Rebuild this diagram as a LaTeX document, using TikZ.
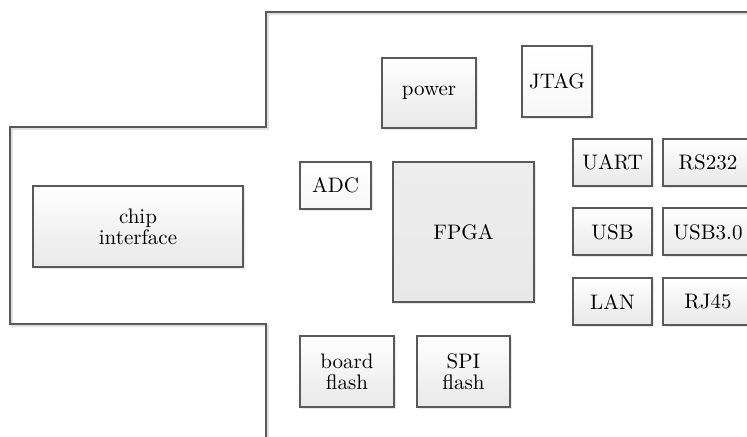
\documentclass[tikz,border=0pt]{standalone}
\usetikzlibrary{math,shadows}

\begin{document}
\begin{tikzpicture}[x=0.5pt, y=-0.5pt,
    blk/.style={draw=black!65, line width=1pt, top color=white, bottom color=black!9,
      drop shadow={shadow xshift=1pt, shadow yshift=-1pt, opacity=1, fill=black!9},
      align=center, inner sep=0pt, font=\fontsize{10.5}{10.5}\selectfont},
    lightblk/.style={blk, top color=white, bottom color=black!3},
    sz/.style 2 args={minimum width=#1*0.5pt, minimum height=#2*0.5pt}]
  \tikzmath{\w = 747; \h = 437;}
  \useasboundingbox (0, 0) rectangle (\w, \h);
  \clip (0, 0) rectangle (\w, \h);

  % board outline, with its faint shadow first
  \draw[black!12, line width=1pt, xshift=1pt, yshift=-1pt] (266, \h) -- (266, 324) -- (10, 324)
    -- (10, 127) -- (266, 127) -- (266, 12) -- (\w+20, 12);
  \draw[black!65, line width=1pt] (266, \h) -- (266, 324) -- (10, 324)
    -- (10, 127) -- (266, 127) -- (266, 12) -- (\w+20, 12);

  \node[blk, sz={210}{81}] (chip) at (138, 226.5) {chip\\interface};

  \node[blk, sz={94}{70}] (power) at (429, 93) {power};
  \node[lightblk, sz={70}{71}] (jtag) at (557, 81.5) {JTAG};
  \node[lightblk, sz={71}{47}] (adc) at (335.5, 185.5) {ADC};
  \node[blk, top color=black!7, bottom color=black!9, sz={141}{140}] (fpga) at (463.5, 232) {FPGA};

  \node[blk, sz={79}{47}] (uart) at (612.5, 162.5) {UART};
  \node[blk, sz={90}{47}] (rs232) at (708, 162.5) {RS232};
  \node[blk, sz={79}{47}] (usb) at (612.5, 232) {USB};
  \node[blk, sz={90}{47}] (usb3) at (708, 232) {USB3.0};
  \node[blk, sz={79}{47}] (lan) at (612.5, 301.5) {LAN};
  \node[blk, sz={90}{47}] (rj45) at (708, 301.5) {RJ45};

  \node[blk, sz={94}{71}] (bflash) at (347, 371.5) {board\\flash};
  \node[blk, sz={93}{71}] (sflash) at (463.5, 371.5) {SPI\\flash};
\end{tikzpicture}
\end{document}
